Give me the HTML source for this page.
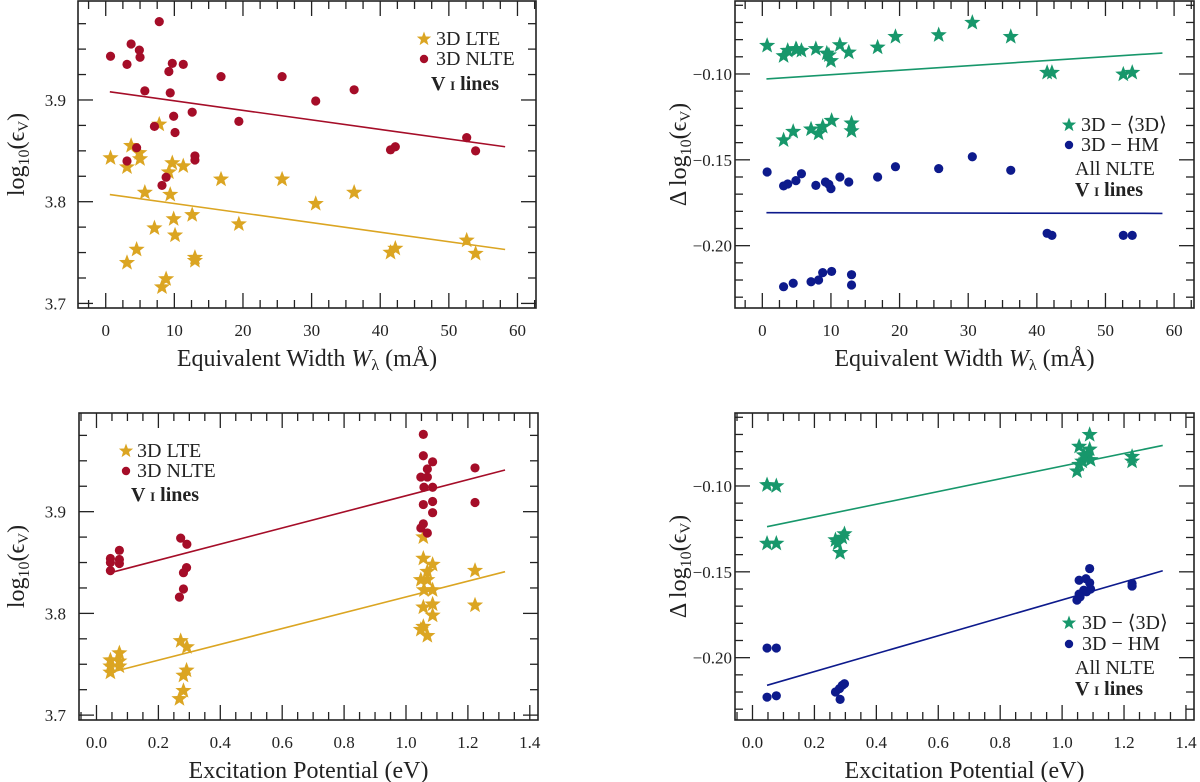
<!DOCTYPE html>
<html><head><meta charset="utf-8"><style>
html,body{margin:0;padding:0;background:#fff;}
svg{display:block;font-family:"Liberation Serif","DejaVu Serif",serif;}
</style></head><body>
<svg id="fig" width="1200" height="782" viewBox="0 0 1200 782"></svg>
<script>
// ---- Data: top-left (EW vs abundance) ----
const tlEW = [0.7,3.7,3.1,4.9,5.0,5.7,7.8,9.2,9.7,11.3,9.4,7.1,9.9,10.1,12.6,4.5,3.1,8.8,8.2,13.0,13.0,16.8,19.4,25.7,30.6,36.2,41.5,42.2,52.6,53.9];
const tlNLTE = [3.943,3.955,3.935,3.949,3.942,3.909,3.977,3.928,3.936,3.935,3.907,3.874,3.884,3.868,3.888,3.853,3.840,3.824,3.816,3.845,3.841,3.923,3.879,3.923,3.899,3.910,3.851,3.854,3.863,3.850];
const tlLTE = [3.843,3.855,3.834,3.848,3.842,3.809,3.876,3.829,3.838,3.835,3.807,3.774,3.783,3.767,3.787,3.753,3.740,3.724,3.716,3.745,3.742,3.822,3.778,3.822,3.798,3.809,3.750,3.754,3.762,3.749];
const tlFitX = [0.6,58.2];
const tlFitNLTE = [3.908,3.854];
const tlFitLTE = [3.807,3.753];
// ---- Data: top-right (EW vs delta) ----
const trStarX = [0.7,3.1,3.1,3.7,4.5,4.9,5.0,5.7,7.1,7.8,8.2,8.8,9.4,9.7,10.0,10.1,11.3,12.6,13.0,13.0,16.8,19.4,25.7,30.6,36.2,41.5,42.2,52.6,53.9];
const trStarY = [-0.0835,-0.0895,-0.1385,-0.0864,-0.1336,-0.0854,-0.0860,-0.0864,-0.1322,-0.0854,-0.1346,-0.1307,-0.088,-0.089,-0.0924,-0.1272,-0.0831,-0.0874,-0.1287,-0.1332,-0.0845,-0.0783,-0.0773,-0.0701,-0.0783,-0.0992,-0.0992,-0.1002,-0.0992];
const trDotX = [0.7,3.1,3.1,3.7,4.5,4.9,5.7,7.1,7.8,8.2,8.8,9.2,9.7,10.0,10.1,11.3,12.6,13.0,13.0,16.8,19.4,25.7,30.6,36.2,41.5,42.2,52.6,53.9];
const trDotY = [-0.1571,-0.1652,-0.2239,-0.1641,-0.2219,-0.1621,-0.1581,-0.2210,-0.1649,-0.2200,-0.2157,-0.1629,-0.1643,-0.1668,-0.2150,-0.160,-0.1629,-0.2169,-0.2229,-0.160,-0.154,-0.1551,-0.1482,-0.1561,-0.1928,-0.1940,-0.194,-0.194];
const trFitX = [0.6,58.3];
const trFitStar = [-0.1029,-0.0878];
const trFitDot = [-0.1808,-0.1812];
// ---- Data: bottom-left (EP vs abundance) ----
const blEP = [0.045,0.045,0.045,0.074,0.074,0.074,0.272,0.292,0.291,0.281,0.281,0.268,1.056,1.056,1.086,1.069,1.048,1.069,1.058,1.086,1.086,1.056,1.086,1.056,1.048,1.069,1.223,1.223];
const blNLTE = [3.842,3.854,3.850,3.862,3.853,3.849,3.874,3.868,3.845,3.840,3.824,3.816,3.976,3.955,3.949,3.942,3.934,3.934,3.924,3.924,3.910,3.907,3.899,3.888,3.884,3.879,3.943,3.909];
const blLTE = [3.754,3.748,3.742,3.761,3.753,3.748,3.773,3.767,3.744,3.739,3.724,3.716,3.875,3.854,3.848,3.841,3.833,3.833,3.823,3.823,3.809,3.806,3.798,3.787,3.784,3.778,3.842,3.808];
const blFitX = [0.045,1.32];
const blFitNLTE = [3.840,3.941];
const blFitLTE = [3.742,3.841];
// ---- Data: bottom-right (EP vs delta) ----
const brStarX = [0.047,0.077,0.047,0.077,0.268,0.283,0.29,0.297,0.275,1.055,1.089,1.089,1.065,1.048,1.079,1.092,1.055,1.07,1.226,1.226];
const brStarY = [-0.0994,-0.100,-0.1335,-0.1335,-0.1315,-0.1389,-0.130,-0.128,-0.1335,-0.077,-0.0702,-0.0787,-0.0857,-0.0914,-0.0829,-0.0848,-0.0876,-0.082,-0.0829,-0.0857];
const brDotX = [0.047,0.077,0.047,0.077,0.268,0.283,0.29,0.297,0.281,1.089,1.055,1.077,1.089,1.055,1.07,1.079,1.048,1.092,1.058,1.226,1.226];
const brDotY = [-0.1944,-0.1944,-0.2230,-0.2222,-0.2200,-0.2243,-0.2161,-0.2152,-0.218,-0.1481,-0.1549,-0.154,-0.1564,-0.1630,-0.1607,-0.1616,-0.1665,-0.160,-0.1646,-0.1568,-0.1583];
const brFitX = [0.047,1.325];
const brFitStar = [-0.1237,-0.0764];
const brFitDot = [-0.2161,-0.1494];
// ---- Tick labels ----
const ewTicks = [0,10,20,30,40,50,60];
const epTicks = [0.0,0.2,0.4,0.6,0.8,1.0,1.2,1.4];
const absTicks = [3.7,3.8,3.9];
const dTicks = [-0.10,-0.15,-0.20];

const GOLD="#dba522", RED="#a50d28", GREEN="#17976b", NAVY="#0d1a8c";
const NS="http://www.w3.org/2000/svg";
const svg=document.getElementById('fig');
function mk(tag,attrs,parent){const e=document.createElementNS(NS,tag);for(const k in attrs)e.setAttribute(k,attrs[k]);(parent||svg).appendChild(e);return e;}
function starPath(cx,cy,R){let r=R*0.42,d='';for(let i=0;i<10;i++){const a=-Math.PI/2+i*Math.PI/5;const rr=i%2?r:R;d+=(i?'L':'M')+(cx+rr*Math.cos(a)).toFixed(2)+' '+(cy+rr*Math.sin(a)).toFixed(2);}return d+'Z';}
function fmt(v,d){const s=Math.abs(v).toFixed(d);return v<0?'\u2212'+s:s;}

function panel(o){
  const g=mk('g',{});
  
  
  const sx=v=>o.l+(v-o.xmin)/(o.xmax-o.xmin)*(o.r-o.l);
  const sy=v=>o.b-(v-o.ymin)/(o.ymax-o.ymin)*(o.b-o.t);
  const tk=mk('g',{stroke:'#222','stroke-width':1.3},g);
  
  
  for(let v=Math.ceil(o.xmin/o.xminor)*o.xminor;v<=o.xmax+1e-9;v+=o.xminor){
    const isMaj=Math.abs(v/o.xmajor-Math.round(v/o.xmajor))<1e-6;const L=isMaj?15:8;const x=sx(v);
    mk('line',{x1:x,x2:x,y1:o.b,y2:o.b-L},tk);mk('line',{x1:x,x2:x,y1:o.t,y2:o.t+L},tk);
  }
  for(let v=Math.ceil(o.ymin/o.yminor)*o.yminor;v<=o.ymax+1e-9;v+=o.yminor){
    const isMaj=Math.abs(v/o.ymajor-Math.round(v/o.ymajor))<1e-6;const L=isMaj?15:8;const y=sy(v);
    mk('line',{x1:o.l,x2:o.l+L,y1:y,y2:y},tk);mk('line',{x1:o.r,x2:o.r-L,y1:y,y2:y},tk);
  }
  o.xticks.forEach(v=>{const t=mk('text',{x:sx(v),y:o.b+28,'text-anchor':'middle','font-size':17,fill:'#222'},g);t.textContent=o.xfmt(v);
    });
  o.yticks.forEach(v=>{const t=mk('text',{x:o.ylabRight,y:sy(v)+6,'text-anchor':'end','font-size':17,fill:'#222'},g);t.textContent=o.yfmt(v);
    });
  o.fits.forEach(f=>{const ln=mk('line',{x1:sx(f.x[0]),y1:sy(f.y[0]),x2:sx(f.x[1]),y2:sy(f.y[1]),stroke:f.c,'stroke-width':1.6},g);
    });
  o.series.forEach(s=>{const sg=mk('g',{fill:s.c},g);
    
    s.x.forEach((xv,i)=>{let m;
      if(s.star){m=mk('path',{d:starPath(sx(xv),sy(s.y[i]),8.5)},sg);}
      else{m=mk('circle',{cx:sx(xv),cy:sy(s.y[i]),r:4.6},sg);}
      });
  });
  const fr=mk('rect',{x:o.l,y:o.t,width:o.r-o.l,height:o.b-o.t,fill:'none',stroke:'#222','stroke-width':1.6},g);
  
  const xt=mk('text',{x:(o.l+o.r)/2,y:o.b+58,'text-anchor':'middle','font-size':24,fill:'#222'},g);
  xt.innerHTML=o.xtitle;
  
  const cy=(o.t+o.b)/2;
  const yt=mk('text',{x:o.ytx,y:cy,'text-anchor':'middle','font-size':24,fill:'#222',transform:`rotate(-90 ${o.ytx} ${cy})`},g);
  yt.innerHTML=o.ytitle;
  
  const lg=mk('g',{'font-size':20,fill:'#222'},g);
  
  o.legend.forEach(e=>{
    if(e.star)mk('path',{d:starPath(e.mx,e.y-6,7.5),fill:e.c},lg);
    else if(e.c)mk('circle',{cx:e.mx,cy:e.y-6,r:4.2,fill:e.c},lg);
    const t=mk('text',{x:e.tx,y:e.y,'font-weight':e.bold?'bold':'normal'},lg);t.innerHTML=e.t;
    
  });
}
const ewT='Equivalent Width <tspan font-style="italic">W</tspan><tspan font-size="16" dy="4">λ</tspan><tspan dy="-4"> (mÅ)</tspan>';
const absT='log<tspan font-size="16" dy="5">10</tspan><tspan dy="-5">(ϵ</tspan><tspan font-size="15" dy="4">V</tspan><tspan dy="-4">)</tspan>';
const dT='Δ log<tspan font-size="16" dy="5">10</tspan><tspan dy="-5">(ϵ</tspan><tspan font-size="15" dy="4">V</tspan><tspan dy="-4">)</tspan>';
const epT='Excitation Potential (eV)';
const vl='V <tspan font-size="13">I</tspan> lines';

panel({name:'panel-ew-abundance',l:78,r:536,t:1,b:308,xmin:-4.04,xmax:62.7,ymin:3.6955,ymax:3.9973,
  xminor:2.5,xmajor:10,yminor:0.025,ymajor:0.1,xticks:ewTicks,yticks:absTicks,xfmt:v=>String(v),yfmt:v=>v.toFixed(1),ylabRight:66,
  xtitle:ewT,ytitle:absT,ytx:24,
  fits:[{x:tlFitX,y:tlFitNLTE,c:RED,n:'fit-nlte'},{x:tlFitX,y:tlFitLTE,c:GOLD,n:'fit-lte'}],
  series:[{x:tlEW,y:tlLTE,c:GOLD,star:true,n:'lte-series'},{x:tlEW,y:tlNLTE,c:RED,star:false,n:'nlte-series'}],
  legend:[{star:true,c:GOLD,mx:424,tx:436,y:45,t:'3D LTE'},{c:RED,mx:424,tx:436,y:65,t:'3D NLTE'},{tx:431,y:90,t:vl,bold:true}]});

panel({name:'panel-ew-delta',l:735,r:1194,t:1,b:308,xmin:-3.98,xmax:62.9,ymin:-0.2363,ymax:-0.0575,
  xminor:2.5,xmajor:10,yminor:0.01,ymajor:0.05,xticks:ewTicks,yticks:dTicks,xfmt:v=>String(v),yfmt:v=>fmt(v,2),ylabRight:732,
  xtitle:ewT,ytitle:dT,ytx:686,
  fits:[{x:trFitX,y:trFitStar,c:GREEN,n:'fit-3d-mean3d'},{x:trFitX,y:trFitDot,c:NAVY,n:'fit-3d-hm'}],
  series:[{x:trStarX,y:trStarY,c:GREEN,star:true,n:'3d-mean3d-series'},{x:trDotX,y:trDotY,c:NAVY,star:false,n:'3d-hm-series'}],
  legend:[{star:true,c:GREEN,mx:1069,tx:1081,y:131,t:'3D − ⟨3D⟩'},{c:NAVY,mx:1069,tx:1081,y:151,t:'3D − HM'},{tx:1075,y:175,t:'All NLTE'},{tx:1075,y:196,t:vl,bold:true}]});

panel({name:'panel-ep-abundance',l:79,r:538,t:413,b:720,xmin:-0.0565,xmax:1.4265,ymin:3.6952,ymax:3.997,
  xminor:0.05,xmajor:0.2,yminor:0.025,ymajor:0.1,xticks:epTicks,yticks:absTicks,xfmt:v=>v.toFixed(1),yfmt:v=>v.toFixed(1),ylabRight:66,
  xtitle:epT,ytitle:absT,ytx:24,
  fits:[{x:blFitX,y:blFitNLTE,c:RED,n:'fit-nlte'},{x:blFitX,y:blFitLTE,c:GOLD,n:'fit-lte'}],
  series:[{x:blEP,y:blLTE,c:GOLD,star:true,n:'lte-series'},{x:blEP,y:blNLTE,c:RED,star:false,n:'nlte-series'}],
  legend:[{star:true,c:GOLD,mx:126,tx:137,y:457,t:'3D LTE'},{c:RED,mx:126,tx:137,y:477,t:'3D NLTE'},{tx:131,y:501,t:vl,bold:true}]});

panel({name:'panel-ep-delta',l:735,r:1194,t:413,b:720,xmin:-0.0565,xmax:1.426,ymin:-0.2363,ymax:-0.0575,
  xminor:0.05,xmajor:0.2,yminor:0.01,ymajor:0.05,xticks:epTicks,yticks:dTicks,xfmt:v=>v.toFixed(1),yfmt:v=>fmt(v,2),ylabRight:732,
  xtitle:epT,ytitle:dT,ytx:686,
  fits:[{x:brFitX,y:brFitStar,c:GREEN,n:'fit-3d-mean3d'},{x:brFitX,y:brFitDot,c:NAVY,n:'fit-3d-hm'}],
  series:[{x:brStarX,y:brStarY,c:GREEN,star:true,n:'3d-mean3d-series'},{x:brDotX,y:brDotY,c:NAVY,star:false,n:'3d-hm-series'}],
  legend:[{star:true,c:GREEN,mx:1069,tx:1082,y:629,t:'3D − ⟨3D⟩'},{c:NAVY,mx:1069,tx:1082,y:650,t:'3D − HM'},{tx:1075,y:674,t:'All NLTE'},{tx:1075,y:695,t:vl,bold:true}]});
</script>
</body></html>
